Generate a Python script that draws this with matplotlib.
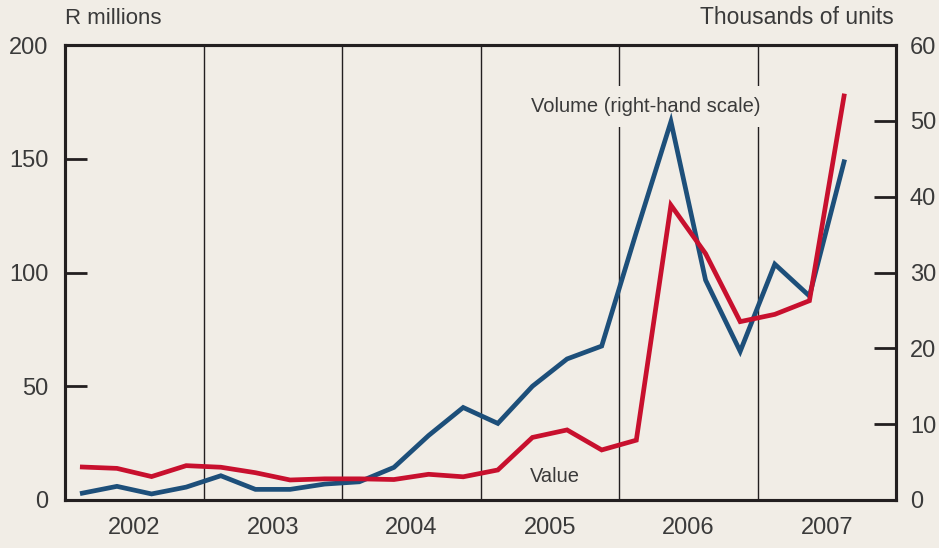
import numpy as np
import matplotlib.pyplot as plt

plt.rcParams['font.family'] = ['Liberation Sans', 'DejaVu Sans']

# quarterly, 2002 Q1 to 2007 Q3
quarters = np.arange(23)
value = [14.5, 13.9, 10.3, 15.1, 14.4, 12.0, 8.8, 9.3,
         9.3, 9.0, 11.3, 10.2, 13.2, 27.5, 30.8, 22.0,
         26.3, 129.6, 108.3, 78.4, 81.6, 87.6, 177.6]
volume = [0.9, 1.8, 0.8, 1.7, 3.2, 1.4, 1.4, 2.1,
          2.4, 4.3, 8.5, 12.2, 10.1, 15.0, 18.6, 20.3,
          35.3, 49.9, 29.0, 19.6, 31.1, 26.9, 44.6]
years = [2002, 2003, 2004, 2005, 2006, 2007]

bg = '#f1ede6'
ink = '#231f20'
txt = '#3a3a3a'
red = '#c8102e'
blue = '#1d4f7a'

x = 2002 + (quarters + 0.5) / 4

fig = plt.figure(figsize=(9.39, 5.48), dpi=100, facecolor=bg)
ax = fig.add_axes([65 / 939, 48 / 548, 831 / 939, 455 / 548], facecolor=bg)
ax2 = ax.twinx()

# year dividers and the volume label sit under both lines
for yr in years[1:]:
    ax2.axvline(yr, color=ink, lw=1, zorder=1)

ax2.plot(x, volume, color=blue, lw=3.4, solid_joinstyle='miter', zorder=3)
ax.plot(x, value, color=red, lw=3.4, solid_joinstyle='miter', zorder=4)
ax.patch.set_visible(False)
ax2.patch.set_visible(True)
ax2.patch.set_facecolor(bg)
ax.set_zorder(1)
ax2.set_zorder(0)

ax.set_xlim(2002, 2008)
ax.set_ylim(0, 200)
ax2.set_ylim(0, 60)

ax.set_yticks([0, 50, 100, 150, 200])
ax2.set_yticks(range(0, 61, 10))
ax.set_xticks([y + 0.5 for y in years])
ax.set_xticklabels([str(y) for y in years])

ax.tick_params(axis='y', direction='in', length=16, width=2, color=ink,
               labelsize=17, labelcolor=txt, pad=12)
ax2.tick_params(axis='y', direction='in', length=16, width=2, color=ink,
                labelsize=17, labelcolor=txt, pad=10)
ax.tick_params(axis='x', length=0, labelsize=17, labelcolor=txt, pad=12)

for a in (ax, ax2):
    for s in a.spines.values():
        s.set_color(ink)
        s.set_linewidth(2.2)

ax.text(0, 1.035, 'R millions', transform=ax.transAxes, fontsize=16,
        color=txt, ha='left', va='bottom')
ax.text(0.997, 1.035, 'Thousands of units', transform=ax.transAxes,
        fontsize=16.5, color=txt, ha='right', va='bottom')

ax2.text(2006.19, 173, 'Volume (right-hand scale)', transform=ax.transData,
         fontsize=14.5, color=txt, ha='center', va='center', zorder=2,
         bbox=dict(facecolor=bg, edgecolor='none', pad=8))
ax.text(2005.54, 10.5, 'Value', fontsize=14.5, color=txt,
        ha='center', va='center', zorder=5)

fig.savefig('out.png', dpi=100, facecolor=bg)
